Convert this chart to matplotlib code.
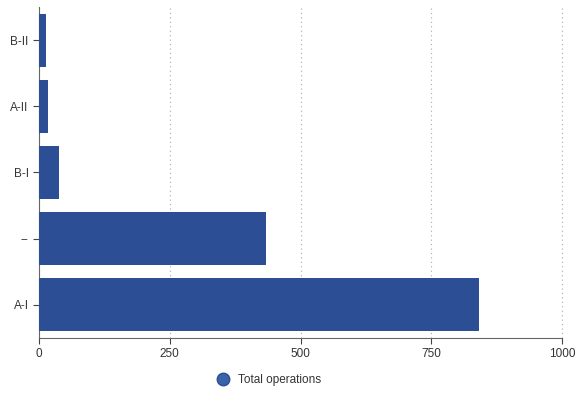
import matplotlib
matplotlib.use("Agg")
import matplotlib.pyplot as plt
from matplotlib.lines import Line2D

categories = ["A-I", "--", "B-I", "A-II", "B-II"]
values = [841, 434, 38, 17, 13]
xticks = [0, 250, 500, 750, 1000]
series_name = "Total operations"

plt.rcParams['font.family'] = ['Liberation Sans', 'DejaVu Sans']
fig = plt.figure(figsize=(5.79, 3.94), dpi=100)
ax = fig.add_axes([39/579, 1-338/394, (562-39)/579, (338-7)/394])

color = "#2b4e94"
ax.barh(range(len(categories)), values, height=0.8, color=color, zorder=3)
ax.set_yticks(range(len(categories)))
ax.set_yticklabels(categories)
ax.set_xticks(xticks)
ax.set_xlim(0, 1000)
ax.set_ylim(-0.5, len(categories) - 0.5)
ax.grid(axis="x", linestyle=(0, (1, 3)), color="#aaaaaa", linewidth=0.8, zorder=0)
for gl in ax.get_xgridlines():
    gl.set_clip_on(False)
for s in ["top", "right"]:
    ax.spines[s].set_visible(False)
for s in ["left", "bottom"]:
    ax.spines[s].set_color("#666666")
    ax.spines[s].set_linewidth(0.8)
ax.tick_params(axis="both", labelsize=8.5, colors="#444444", length=4, width=0.8)
ax.tick_params(axis="both", labelcolor="#333333")

handle = Line2D([], [], marker="o", linestyle="none", markersize=9,
                markerfacecolor="#3a64a8", markeredgecolor="#2b4e94")
fig.legend([handle], [series_name], loc="center", bbox_to_anchor=(0.46, 1-380/394),
           frameon=False, fontsize=8.5, handletextpad=0.3, labelcolor="#333333")

fig.savefig("out.png", dpi=100)
